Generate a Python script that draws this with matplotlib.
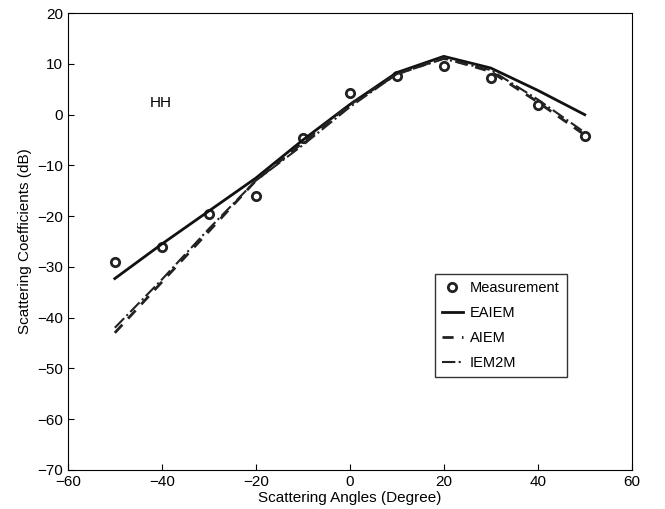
import matplotlib
matplotlib.use("Agg")
import matplotlib.pyplot as plt

plt.rcParams['font.family'] = ['Liberation Sans', 'DejaVu Sans']

# Data
angles = [-50, -40, -30, -20, -10, 0, 10, 20, 30, 40, 50]
measurement = [-29, -26, -19.5, -16, -4.5, 4.3, 7.7, 9.6, 7.3, 2, -4.2]
eaiem = [-32.3, -25.5, -19, -12.5, -5, 2, 8.3, 11.5, 9.2, 4.8, 0]
aiem = [-43, -33, -23, -13, -5.5, 2, 8, 11.2, 8.5, 2.5, -4]
iem2m = [-42, -32.5, -22.5, -13, -6, 1.5, 8, 11, 8.8, 3, -3.5]

fig = plt.figure(figsize=(6.65, 5.09), dpi=100)
ax = fig.add_axes([0.102, 0.077, 0.848, 0.897])

ax.plot(angles, measurement, 'o', mfc='none', mec='#222222', mew=2, ms=6, label='Measurement')
ax.plot(angles, eaiem, '-', color='#111111', lw=2, label='EAIEM')
ax.plot(angles, aiem, '--', color='#222222', lw=2, dashes=(4, 3), label='AIEM')
ax.plot(angles, iem2m, '-.', color='#222222', lw=1.5, label='IEM2M')

ax.text(-42.5, 2.3, 'HH', fontsize=11, va='center')

ax.set_xlim(-60, 60)
ax.set_ylim(-70, 20)
ax.set_xticks(range(-60, 61, 20))
ax.set_yticks(range(-70, 21, 10))
ax.set_xticklabels(['\u221260', '\u221240', '\u221220', '0', '20', '40', '60'])
ax.set_yticklabels(['\u221270', '\u221260', '\u221250', '\u221240', '\u221230',
                    '\u221220', '\u221210', '0', '10', '20'])
ax.tick_params(direction='in', labelsize=11, length=4)
ax.set_xlabel('Scattering Angles (Degree)', fontsize=11, labelpad=2)
ax.set_ylabel('Scattering Coefficients (dB)', fontsize=11)

leg = ax.legend(loc='lower left', bbox_to_anchor=(0.651, 0.203), fontsize=10.5,
                frameon=True, fancybox=False, edgecolor='black',
                handlelength=1.4, handletextpad=0.5, borderpad=0.5,
                labelspacing=0.75, borderaxespad=0)
leg.get_frame().set_linewidth(1)

fig.savefig('out.png', dpi=100)
